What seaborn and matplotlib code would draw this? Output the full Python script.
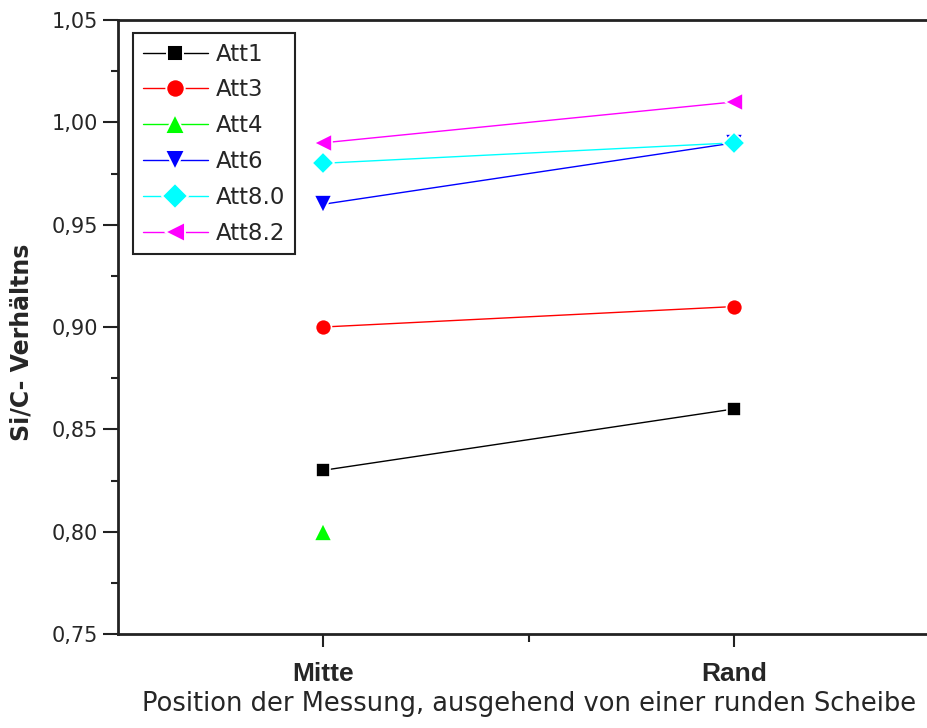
import matplotlib
matplotlib.use("Agg")
import matplotlib.pyplot as plt
from matplotlib.ticker import MultipleLocator, FixedLocator
from matplotlib.lines import Line2D
import pandas as pd
import seaborn as sns

# Measurement positions and Si/C ratios per sample
positions = ["Mitte", "Rand"]
series = ["Att1", "Att3", "Att4", "Att6", "Att8.0", "Att8.2"]
att1 = [0.83, 0.86]
att3 = [0.90, 0.91]
att4 = [0.80, None]
att6 = [0.96, 0.99]
att80 = [0.98, 0.99]
att82 = [0.99, 1.01]

colors = ["#000000", "#ff0000", "#00ff00", "#0000ff", "#00ffff", "#ff00ff"]
markers = ["s", "o", "^", "v", "D", "<"]
marker_sizes = {"s": 9.5, "o": 11.5, "^": 12.5, "v": 12.5, "D": 11.5, "<": 12.5}

rows = []
for name, vals in zip(series, [att1, att3, att4, att6, att80, att82]):
    for i, v in enumerate(vals):
        if v is not None:
            rows.append({"Position": i + 1, "Wert": v, "Probe": name})
df = pd.DataFrame(rows)

sns.set_theme(style="ticks")
plt.rcParams["font.family"] = ["DejaVu Sans"]

fig = plt.figure(figsize=(9.28, 7.28), dpi=100)
# the frame runs past the right edge of the figure
ax = fig.add_axes([118 / 928, 1 - 634 / 728, 822 / 928, 614 / 728])

sns.lineplot(
    data=df, x="Position", y="Wert", hue="Probe", style="Probe",
    hue_order=series, style_order=series,
    palette=colors, markers=markers, dashes=False,
    linewidth=1.0, markeredgewidth=1.2, markeredgecolor="white",
    ax=ax, legend=False,
)
for line in ax.get_lines():
    m = line.get_marker()
    if m in marker_sizes:
        line.set_markersize(marker_sizes[m])

ax.set_xlim(0.5, 2.5)
ax.set_ylim(0.75, 1.05)
ax.xaxis.set_major_locator(FixedLocator([1, 2]))
ax.xaxis.set_minor_locator(FixedLocator([1.5]))
ax.set_xticklabels(positions, fontsize=19, fontweight="bold",
                   family=["Liberation Sans", "DejaVu Sans"])
ax.yaxis.set_major_locator(MultipleLocator(0.05))
ax.yaxis.set_minor_locator(MultipleLocator(0.025))
ax.set_yticklabels([f"{t:.2f}".replace(".", ",") for t in ax.get_yticks()], fontsize=15)

ax.tick_params(axis="y", which="major", direction="out", length=11, width=1.5, color="#222222", pad=3.5)
ax.tick_params(axis="y", which="minor", direction="out", length=5, width=1.5, color="#222222")
ax.tick_params(axis="x", which="major", direction="out", length=9, width=1.5, color="#222222", pad=11)
ax.tick_params(axis="x", which="minor", direction="out", length=5.5, width=1.5, color="#222222")
for s in ax.spines.values():
    s.set_linewidth(2)
    s.set_color("#222222")
ax.spines["right"].set_visible(False)

ax.set_xlabel("Position der Messung, ausgehend von einer runden Scheibe", fontsize=18.5, labelpad=4)
ax.set_ylabel("Si/C- Verhältns", fontsize=17, fontweight="bold", labelpad=13)
ax.yaxis.label.set_y(0.4756)

# legend: marker framed by short line segments
handles = [
    Line2D([0], [0], color=c, lw=1.0, marker=m, markersize=marker_sizes[m] * 1.15,
           markeredgewidth=1.4, markeredgecolor="white", markerfacecolor=c)
    for c, m in zip(colors, markers)
]
leg = ax.legend(
    handles, series, loc="upper left", bbox_to_anchor=(15 / 822, 1 - 13 / 614),
    borderaxespad=0, fontsize=16.5, frameon=True, fancybox=False, framealpha=1,
    edgecolor="#222222", handlelength=2.85, handletextpad=0.33,
    labelspacing=0.56, borderpad=0.42,
)
leg.get_frame().set_linewidth(1.5)

fig.savefig("out.png", dpi=100)
